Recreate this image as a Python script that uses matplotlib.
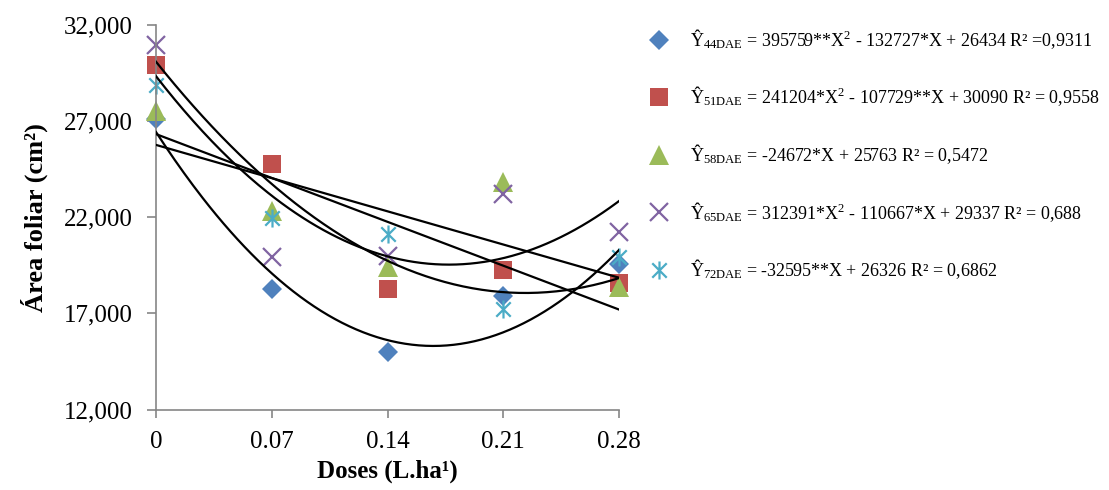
import numpy as np
import matplotlib
matplotlib.use('Agg')
import matplotlib.pyplot as plt
from matplotlib.path import Path
from matplotlib.ticker import FuncFormatter

plt.rcParams['font.family'] = ['Liberation Serif', 'DejaVu Serif']
plt.rcParams['mathtext.fontset'] = 'custom'
plt.rcParams['mathtext.rm'] = 'Liberation Serif'
plt.rcParams['mathtext.it'] = 'Liberation Serif:italic'
plt.rcParams['mathtext.bf'] = 'Liberation Serif:bold'

# ---- data ----
doses = [0, 0.07, 0.14, 0.21, 0.28]
xtick_labels = ['0', '0.07', '0.14', '0.21', '0.28']
yticks = [12000, 17000, 22000, 27000, 32000]

dae44 = [27100, 18270, 15010, 17910, 19570]
dae51 = [29930, 24750, 18270, 19260, 18600]
dae58 = [27550, 22300, 19410, 23820, 18380]
dae65 = [30960, 19930, 19980, 23190, 21230]
dae72 = [28890, 21950, 21120, 17240, 19930]

# trendline coefficients: a*X^2 + b*X + c
coef44 = [395759, -132727, 26434]
coef51 = [241204, -107729, 30090]
coef58 = [0, -24672, 25763]
coef65 = [312391, -110667, 29337]
coef72 = [0, -32595, 26326]

labels = [
    r"Ŷ$_{\mathrm{44DAE}}$ = 395759**X$^{2}$ - 132727*X + 26434 R² =0,9311",
    r"Ŷ$_{\mathrm{51DAE}}$ = 241204*X$^{2}$ - 107729**X + 30090 R² = 0,9558",
    r"Ŷ$_{\mathrm{58DAE}}$ = -24672*X + 25763 R² = 0,5472",
    r"Ŷ$_{\mathrm{65DAE}}$ = 312391*X$^{2}$ - 110667*X + 29337 R² = 0,688",
    r"Ŷ$_{\mathrm{72DAE}}$ = -32595**X + 26326 R² = 0,6862",
]

colors = ['#4F81BD', '#C0504D', '#9BBB59', '#8064A2', '#4BACC6']

# star marker: vertical bar + X
star = Path([(0, -1), (0, 1), (-0.8, -0.8), (0.8, 0.8), (-0.8, 0.8), (0.8, -0.8)],
            [Path.MOVETO, Path.LINETO, Path.MOVETO, Path.LINETO, Path.MOVETO, Path.LINETO])

marker_specs = [
    dict(marker='D', markersize=10, markeredgewidth=0),
    dict(marker='s', markersize=13, markeredgewidth=0),
    dict(marker='^', markersize=14, markeredgewidth=0),
    dict(marker='x', markersize=13, markeredgewidth=1.6),
    dict(marker=star, markersize=13, markeredgewidth=1.6),
]

series = [dae44, dae51, dae58, dae65, dae72]
coefs = [coef44, coef51, coef58, coef65, coef72]

fig = plt.figure(figsize=(11.09, 4.90), dpi=100)
ax = fig.add_axes([156/1109, 1 - 409.5/490, 463/1109, 384.5/490])

xs = np.linspace(doses[0], doses[-1], 200)
for c in coefs:
    ax.plot(xs, np.polyval(c, xs), color='black', lw=1.6, zorder=3)

handles = []
for ys, col, spec in zip(series, colors, marker_specs):
    h, = ax.plot(doses, ys, linestyle='none', color=col, markerfacecolor=col,
                 markeredgecolor=col, clip_on=False, zorder=2, **spec)
    handles.append(h)

ax.set_xlim(doses[0], doses[-1])
ax.set_ylim(yticks[0], yticks[-1])
ax.set_xticks(doses)
ax.set_xticklabels(xtick_labels)
ax.set_yticks(yticks)
ax.yaxis.set_major_formatter(FuncFormatter(lambda v, p: f"{int(v):,}"))

for s in ['top', 'right']:
    ax.spines[s].set_visible(False)
for s in ['left', 'bottom']:
    ax.spines[s].set_color('#868686')
    ax.spines[s].set_linewidth(1.2)
ax.tick_params(axis='y', direction='out', length=6.5, width=1.2, color='#868686',
               labelsize=18, pad=10)
ax.tick_params(axis='x', direction='out', length=5.5, width=1.2, color='#868686',
               labelsize=18, pad=10)

ax.set_ylabel('Área foliar (cm²)', fontsize=19, fontweight='bold', labelpad=12)
ax.set_xlabel('Doses (L.ha¹)', fontsize=18, fontweight='bold', labelpad=5)

fig.legend(handles, labels, loc='upper left', bbox_to_anchor=(648/1109, 1 - 27/490),
           frameon=False, fontsize=13, handlelength=1.2, handletextpad=1.1,
           labelspacing=1.87, borderpad=0, borderaxespad=0)

fig.savefig('out.png', dpi=100)
